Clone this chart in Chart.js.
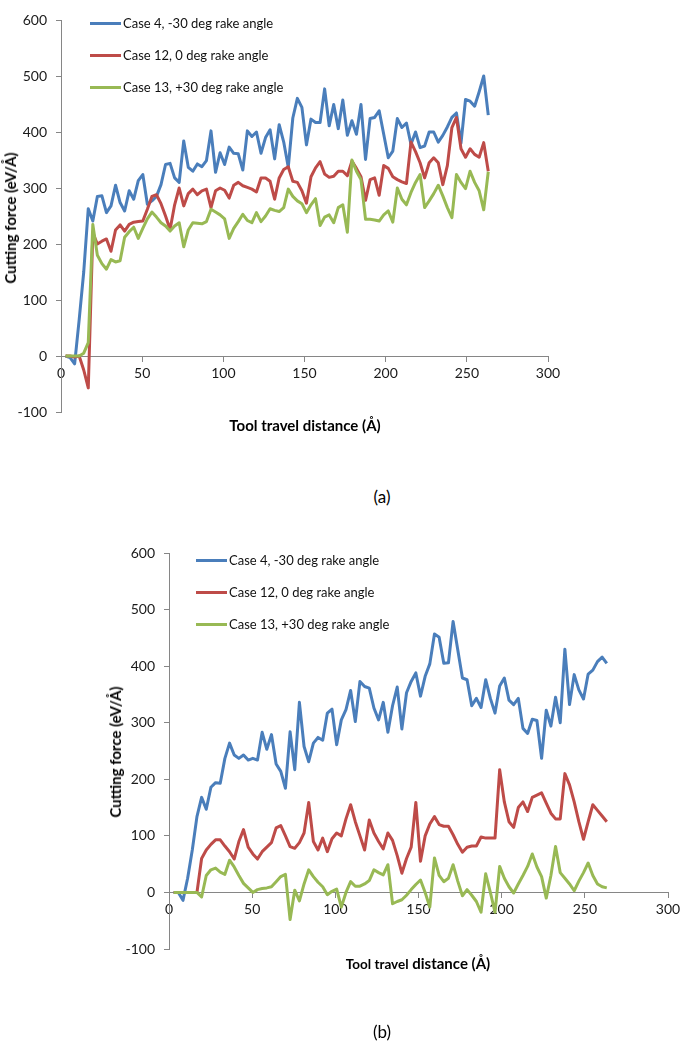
<!DOCTYPE html>
<html>
<head>
<meta charset="utf-8">
<script src="https://cdn.jsdelivr.net/npm/chart.js@4.4.1/dist/chart.umd.min.js"></script>
<style>
  body { margin: 0; background: #fff; width: 685px; height: 1051px; position: relative; overflow: hidden; font-family: Lato, "Open Sans", sans-serif; color: #000; }
  canvas { position: absolute; left: 0; }
  .ytitle { position: absolute; font-weight: bold; font-size: 15px; white-space: nowrap; transform: translate(-50%, -50%) rotate(-90deg); }
  .xtitle { position: absolute; font-weight: bold; font-size: 15px; white-space: nowrap; transform: translate(-50%, -50%); }
  .panel { position: absolute; font-size: 17px; transform: translate(-50%, -50%); }
  .leg { position: absolute; font-size: 13px; white-space: nowrap; color: #111; }
  .leg span.ln { display: inline-block; width: 31px; height: 3px; vertical-align: middle; margin-right: 2px; position: relative; top: -1px; }
</style>
</head>
<body>
<canvas id="chartA" width="600" height="440" style="top:0px"></canvas>
<canvas id="chartB" width="685" height="460" style="top:520px"></canvas>

<div class="ytitle" style="left:10px; top:218px">Cutting force (eV/Å)</div>
<div class="xtitle" style="left:305px; top:425px">Tool travel distance (Å)</div>
<div class="panel" style="left:382px; top:496px">(a)</div>

<div class="ytitle" style="left:115px; top:752px">Cutting force (eV/Å)</div>
<div class="xtitle" style="left:418px; top:963px"><span style="font-size:13.5px">Tool travel</span> distance (Å)</div>
<div class="panel" style="left:382px; top:1031px">(b)</div>

<div id="legendA"></div>
<div id="legendB"></div>

<script>
// tool travel distance (Å), same for every case
let distance = [
  2.8, 5.6, 8.4, 11.2, 14, 16.8, 19.6, 22.4, 25.2, 28,
  30.8, 33.6, 36.4, 39.2, 42, 44.8, 47.6, 50.4, 53.2, 56,
  58.8, 61.6, 64.4, 67.2, 70, 72.8, 75.6, 78.4, 81.2, 84,
  86.8, 89.6, 92.4, 95.2, 98, 100.8, 103.6, 106.4, 109.2, 112,
  114.8, 117.6, 120.4, 123.2, 126, 128.8, 131.6, 134.4, 137.2, 140,
  142.8, 145.6, 148.4, 151.2, 154, 156.8, 159.6, 162.4, 165.2, 168,
  170.8, 173.6, 176.4, 179.2, 182, 184.8, 187.6, 190.4, 193.2, 196,
  198.8, 201.6, 204.4, 207.2, 210, 212.8, 215.6, 218.4, 221.2, 224,
  226.8, 229.6, 232.4, 235.2, 238, 240.8, 243.6, 246.4, 249.2, 252,
  254.8, 257.6, 260.4, 263.2
];

let seriesNames = ['Case 4, -30 deg rake angle', 'Case 12, 0 deg rake angle', 'Case 13, +30 deg rake angle'];
let seriesColors = ['#4a7ebb', '#be4b48', '#98b954'];

let yTicks = [-100, 0, 100, 200, 300, 400, 500, 600];
let xTicks = [0, 50, 100, 150, 200, 250, 300];

// (a) cutting force, eV/Å
let case4A = [
  0, -3, -14, 65, 150, 263, 241, 285, 286, 256,
  268, 305, 274, 259, 295, 280, 313, 324, 271, 277,
  285, 306, 342, 344, 318, 310, 384, 337, 330, 343,
  338, 349, 402, 328, 363, 342, 373, 362, 361, 332,
  402, 392, 400, 362, 390, 404, 352, 413, 382, 337,
  425, 460, 444, 377, 423, 417, 417, 477, 411, 449,
  406, 457, 394, 420, 396, 449, 351, 424, 426, 438,
  396, 354, 366, 424, 408, 416, 378, 400, 372, 375,
  400, 400, 382, 394, 409, 426, 434, 380, 458, 455,
  446, 472, 500, 430
];
let case12A = [
  0, 0, -2, 0, -25, -57, 220, 200, 205, 209,
  187, 225, 234, 223, 235, 239, 240, 241, 262, 285,
  288, 272, 250, 226, 270, 300, 268, 290, 298, 288,
  295, 298, 265, 295, 300, 296, 282, 305, 310, 304,
  301, 298, 293, 318, 318, 312, 280, 318, 333, 338,
  312, 310, 295, 273, 320, 336, 347, 325, 319, 321,
  330, 330, 322, 348, 335, 320, 278, 315, 318, 287,
  340, 335, 320, 315, 311, 308, 382, 365, 345, 318,
  345, 354, 345, 306, 340, 408, 426, 370, 355, 370,
  360, 355, 381, 330
];
let case13A = [
  0, 0, 0, 0, 5, 24, 235, 180, 165, 155,
  172, 168, 170, 212, 222, 230, 210, 228, 245, 257,
  248, 238, 232, 223, 232, 238, 195, 225, 238, 237,
  236, 240, 262, 257, 252, 245, 210, 228, 240, 253,
  242, 238, 256, 240, 250, 263, 260, 258, 265, 298,
  285, 277, 272, 256, 270, 281, 233, 248, 252, 238,
  265, 270, 221, 350, 330, 315, 244, 244, 243, 241,
  252, 259, 239, 300, 280, 270, 292, 310, 324, 265,
  277, 290, 305, 286, 265, 247, 324, 310, 299, 330,
  310, 295, 261, 329
];

// (b) cutting force, eV/Å
let case4B = [
  0, 0, -14, 25, 75, 134, 168, 147, 186, 194,
  193, 237, 264, 243, 237, 243, 234, 237, 234, 283,
  253, 279, 227, 214, 184, 284, 217, 336, 258, 231,
  264, 274, 269, 317, 324, 261, 305, 323, 357, 302,
  373, 364, 361, 326, 305, 336, 283, 330, 363, 289,
  353, 373, 388, 347, 382, 404, 457, 451, 405, 406,
  479, 429, 379, 376, 330, 343, 327, 376, 343, 317,
  365, 379, 340, 332, 343, 290, 281, 306, 304, 237,
  322, 294, 345, 300, 430, 332, 385, 358, 342, 386,
  393, 408, 416, 405
];
let case12B = [
  0, 0, 0, 0, 0, 0, 60, 75, 85, 93,
  93, 82, 72, 59, 90, 111, 80, 68, 59, 72,
  80, 88, 114, 118, 100, 81, 78, 88, 105, 159,
  90, 75, 96, 72, 95, 105, 100, 130, 155, 125,
  100, 75, 128, 105, 90, 77, 105, 92, 65, 34,
  60, 80, 159, 55, 100, 121, 134, 120, 117, 117,
  102, 85, 71, 80, 82, 82, 98, 96, 96, 96,
  217, 160, 125, 115, 150, 160, 143, 168, 172, 176,
  158, 140, 130, 130, 210, 190, 160, 125, 94, 125,
  155, 145, 135, 125
];
let case13B = [
  0, 0, 0, 0, 0, 0, -8, 30, 40, 43,
  36, 32, 57, 45, 30, 16, 8, 0, 5, 7,
  8, 10, 19, 28, 32, -48, 4, -15, 15, 40,
  28, 18, 10, -4, 2, 6, -26, 0, 19, 11,
  11, 15, 21, 40, 35, 31, 49, -20, -16, -13,
  -5, 5, 14, 22, 0, -26, 61, 30, 19, 25,
  49, 20, -6, 5, -5, -16, -35, 33, 0, -35,
  46, 25, 10, -1, 15, 30, 46, 68, 45, 28,
  -10, 30, 81, 35, 25, 15, 3, 20, 35, 52,
  30, 15, 10, 8
];

// 把 x / y 兩個陣列組成點
function toPoints(ys) {
  return ys.map((v, i) => ({ x: distance[i], y: v }));
}

function makeDatasets(list) {
  return list.map((ys, k) => ({
    label: seriesNames[k],
    data: toPoints(ys),
    borderColor: seriesColors[k],
    backgroundColor: seriesColors[k],
    borderWidth: 3,
    pointRadius: 0,
    tension: 0,
    borderJoinStyle: 'round',
    order: 3 - k   // green drawn on top, like the Excel original
  }));
}

// build options; yWidth / pad fix the plot box in the canvas
function makeOptions(yWidth, pad) {
  let axisColor = '#868686';
  let tickFont = { family: 'Lato', size: 14 };
  return {
    responsive: false,
    animation: false,
    devicePixelRatio: 1,
    layout: { padding: pad },
    plugins: { legend: { display: false }, tooltip: { enabled: false } },
    scales: {
      x: {
        type: 'linear',
        position: { y: 0 },
        min: 0,
        max: 300,
        afterBuildTicks: s => { s.ticks = xTicks.map(v => ({ value: v })); },
        ticks: { color: '#1a1a1a', font: tickFont, padding: 4, maxRotation: 0 },
        grid: { drawOnChartArea: false, drawTicks: true, tickLength: 5, color: axisColor },
        border: { color: axisColor, width: 1 }
      },
      y: {
        type: 'linear',
        min: -100,
        max: 600,
        afterBuildTicks: s => { s.ticks = yTicks.map(v => ({ value: v })); },
        afterFit: s => { s.width = yWidth; },
        ticks: { color: '#1a1a1a', font: tickFont, padding: 9 },
        grid: { drawOnChartArea: false, drawTicks: true, tickLength: 5, color: axisColor },
        border: { color: axisColor, width: 1 }
      }
    }
  };
}

new Chart(document.querySelector('#chartA'), {
  type: 'line',
  data: { datasets: makeDatasets([case4A, case12A, case13A]) },
  options: makeOptions(61, { left: 0, right: 52, top: 20, bottom: 28 })
});

new Chart(document.querySelector('#chartB'), {
  type: 'line',
  data: { datasets: makeDatasets([case4B, case12B, case13B]) },
  options: makeOptions(169, { left: 0, right: 17, top: 33, bottom: 31 })
});

// 圖例 (inside the plot, top left)
function drawLegend(id, left, top) {
  let box = document.querySelector(id);
  seriesNames.forEach((name, k) => {
    let row = document.createElement('div');
    row.className = 'leg';
    row.style.left = left + 'px';
    row.style.top = (top + k * 32 - 9) + 'px';
    row.innerHTML = '<span class="ln" style="background:' + seriesColors[k] + '"></span>' + name;
    box.appendChild(row);
  });
}
drawLegend('#legendA', 90, 24);
drawLegend('#legendB', 196, 561);
</script>
</body>
</html>
